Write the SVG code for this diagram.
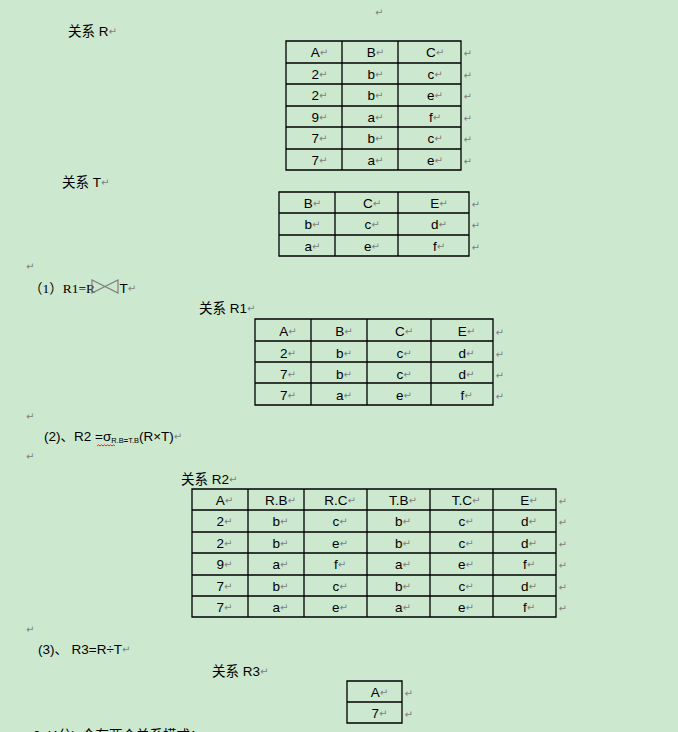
<svg xmlns="http://www.w3.org/2000/svg" width="678" height="732" viewBox="0 0 678 732">
<style>
.t{font-family:"Liberation Sans",Arial,"Noto Sans CJK SC",sans-serif;font-size:13.5px;fill:#000}
.s{font-family:"Liberation Serif","Times New Roman","Noto Sans CJK SC",serif;font-size:13.5px;fill:#000}
.c{text-anchor:middle}
.pm{font-family:"DejaVu Sans",sans-serif;font-size:10px;fill:#808080;font-weight:normal;baseline-shift:1.5px}
.grid{fill:none;stroke:#000;stroke-width:1.3}
</style>
<rect width="678" height="732" fill="#cce8cf"/>

<g id="top-mark"><text class="pm" x="375" y="17">↵</text></g>

<g id="label-R"><text class="t" x="68" y="35.5">关系 R<tspan class="pm">↵</tspan></text></g>
<g id="table-R">
<path class="grid" d="M286 41H461V170H286Z M342 41V170 M398 41V170 M286 63H461 M286 84H461 M286 106H461 M286 127H461 M286 149H461"/>
<g class="t c">
<text x="319.5" y="57">A<tspan class="pm">↵</tspan></text><text x="375.5" y="57">B<tspan class="pm">↵</tspan></text><text x="435" y="57">C<tspan class="pm">↵</tspan></text>
<text x="319.5" y="79">2<tspan class="pm">↵</tspan></text><text x="375.5" y="79">b<tspan class="pm">↵</tspan></text><text x="435" y="79">c<tspan class="pm">↵</tspan></text>
<text x="319.5" y="100">2<tspan class="pm">↵</tspan></text><text x="375.5" y="100">b<tspan class="pm">↵</tspan></text><text x="435" y="100">e<tspan class="pm">↵</tspan></text>
<text x="319.5" y="122">9<tspan class="pm">↵</tspan></text><text x="375.5" y="122">a<tspan class="pm">↵</tspan></text><text x="435" y="122">f<tspan class="pm">↵</tspan></text>
<text x="319.5" y="143">7<tspan class="pm">↵</tspan></text><text x="375.5" y="143">b<tspan class="pm">↵</tspan></text><text x="435" y="143">c<tspan class="pm">↵</tspan></text>
<text x="319.5" y="165">7<tspan class="pm">↵</tspan></text><text x="375.5" y="165">a<tspan class="pm">↵</tspan></text><text x="435" y="165">e<tspan class="pm">↵</tspan></text>
</g>
<g class="pm"><text x="463.5" y="57">↵</text><text x="463.5" y="79">↵</text><text x="463.5" y="100">↵</text><text x="463.5" y="122">↵</text><text x="463.5" y="143">↵</text><text x="463.5" y="165">↵</text></g>
</g>

<g id="label-T"><text class="t" x="62" y="186.5">关系 T<tspan class="pm">↵</tspan></text></g>
<g id="table-T">
<path class="grid" d="M279 192H469V256H279Z M335 192V256 M398 192V256 M279 213H469 M279 235H469"/>
<g class="t c">
<text x="312.5" y="208">B<tspan class="pm">↵</tspan></text><text x="372" y="208">C<tspan class="pm">↵</tspan></text><text x="439" y="208">E<tspan class="pm">↵</tspan></text>
<text x="312.5" y="229">b<tspan class="pm">↵</tspan></text><text x="372" y="229">c<tspan class="pm">↵</tspan></text><text x="439" y="229">d<tspan class="pm">↵</tspan></text>
<text x="312.5" y="251">a<tspan class="pm">↵</tspan></text><text x="372" y="251">e<tspan class="pm">↵</tspan></text><text x="439" y="251">f<tspan class="pm">↵</tspan></text>
</g>
<g class="pm"><text x="471.5" y="208">↵</text><text x="471.5" y="229">↵</text><text x="471.5" y="251">↵</text></g>
</g>

<g id="blank-1"><text class="pm" x="26" y="271">↵</text></g>

<g id="expr-1">
<text class="s" x="29" y="293">（1）R1=R</text>
<path d="M92 280V293L118 280V293Z" fill="none" stroke="#7f7f7f" stroke-width="1.2"/>
<text class="t" x="119.5" y="293">T<tspan class="pm">↵</tspan></text>
</g>

<g id="label-R1"><text class="t" x="199" y="313">关系 R1<tspan class="pm">↵</tspan></text></g>
<g id="table-R1">
<path class="grid" d="M255 319H493V405H255Z M311 319V405 M367 319V405 M431 319V405 M255 341H493 M255 362H493 M255 383H493"/>
<g class="t c">
<text x="288" y="335.5">A<tspan class="pm">↵</tspan></text><text x="344" y="335.5">B<tspan class="pm">↵</tspan></text><text x="404" y="335.5">C<tspan class="pm">↵</tspan></text><text x="466.5" y="335.5">E<tspan class="pm">↵</tspan></text>
<text x="288" y="357.5">2<tspan class="pm">↵</tspan></text><text x="344" y="357.5">b<tspan class="pm">↵</tspan></text><text x="404" y="357.5">c<tspan class="pm">↵</tspan></text><text x="466.5" y="357.5">d<tspan class="pm">↵</tspan></text>
<text x="288" y="378.5">7<tspan class="pm">↵</tspan></text><text x="344" y="378.5">b<tspan class="pm">↵</tspan></text><text x="404" y="378.5">c<tspan class="pm">↵</tspan></text><text x="466.5" y="378.5">d<tspan class="pm">↵</tspan></text>
<text x="288" y="399.5">7<tspan class="pm">↵</tspan></text><text x="344" y="399.5">a<tspan class="pm">↵</tspan></text><text x="404" y="399.5">e<tspan class="pm">↵</tspan></text><text x="466.5" y="399.5">f<tspan class="pm">↵</tspan></text>
</g>
<g class="pm"><text x="495.5" y="335.5">↵</text><text x="495.5" y="357.5">↵</text><text x="495.5" y="378.5">↵</text><text x="495.5" y="399.5">↵</text></g>
</g>

<g id="blank-2"><text class="pm" x="26" y="421">↵</text></g>

<g id="expr-2">
<text class="t" x="44" y="441" font-size="12.5">(2)、R2 =σ<tspan y="443" font-size="7.5">R.B<tspan font-weight="bold">=</tspan>T.B</tspan><tspan y="441">(R×T)</tspan><tspan class="pm">↵</tspan></text>
<polyline points="97,446 98.5,444.8 100,446 101.5,444.8 103,446 104.5,444.8 106,446 107.5,444.8 109,446 110.5,444.8 112,446 113.5,444.8 115,446" fill="none" stroke="#e00000" stroke-width="0.8"/>
</g>

<g id="blank-3"><text class="pm" x="26" y="461">↵</text></g>

<g id="label-R2"><text class="t" x="181" y="484">关系 R2<tspan class="pm">↵</tspan></text></g>
<g id="table-R2">
<path class="grid" d="M192 489H556V617H192Z M248 489V617 M304 489V617 M367 489V617 M430 489V617 M493 489V617 M192 510H556 M192 532H556 M192 553H556 M192 575H556 M192 596H556"/>
<g class="t c">
<text x="224.5" y="505">A<tspan class="pm">↵</tspan></text><text x="280.5" y="505">R.B<tspan class="pm">↵</tspan></text><text x="340" y="505">R.C<tspan class="pm">↵</tspan></text><text x="403" y="505">T.B<tspan class="pm">↵</tspan></text><text x="466" y="505">T.C<tspan class="pm">↵</tspan></text><text x="529" y="505">E<tspan class="pm">↵</tspan></text>
<text x="224.5" y="526">2<tspan class="pm">↵</tspan></text><text x="280.5" y="526">b<tspan class="pm">↵</tspan></text><text x="340" y="526">c<tspan class="pm">↵</tspan></text><text x="403" y="526">b<tspan class="pm">↵</tspan></text><text x="466" y="526">c<tspan class="pm">↵</tspan></text><text x="529" y="526">d<tspan class="pm">↵</tspan></text>
<text x="224.5" y="548">2<tspan class="pm">↵</tspan></text><text x="280.5" y="548">b<tspan class="pm">↵</tspan></text><text x="340" y="548">e<tspan class="pm">↵</tspan></text><text x="403" y="548">b<tspan class="pm">↵</tspan></text><text x="466" y="548">c<tspan class="pm">↵</tspan></text><text x="529" y="548">d<tspan class="pm">↵</tspan></text>
<text x="224.5" y="569">9<tspan class="pm">↵</tspan></text><text x="280.5" y="569">a<tspan class="pm">↵</tspan></text><text x="340" y="569">f<tspan class="pm">↵</tspan></text><text x="403" y="569">a<tspan class="pm">↵</tspan></text><text x="466" y="569">e<tspan class="pm">↵</tspan></text><text x="529" y="569">f<tspan class="pm">↵</tspan></text>
<text x="224.5" y="591">7<tspan class="pm">↵</tspan></text><text x="280.5" y="591">b<tspan class="pm">↵</tspan></text><text x="340" y="591">c<tspan class="pm">↵</tspan></text><text x="403" y="591">b<tspan class="pm">↵</tspan></text><text x="466" y="591">c<tspan class="pm">↵</tspan></text><text x="529" y="591">d<tspan class="pm">↵</tspan></text>
<text x="224.5" y="612">7<tspan class="pm">↵</tspan></text><text x="280.5" y="612">a<tspan class="pm">↵</tspan></text><text x="340" y="612">e<tspan class="pm">↵</tspan></text><text x="403" y="612">a<tspan class="pm">↵</tspan></text><text x="466" y="612">e<tspan class="pm">↵</tspan></text><text x="529" y="612">f<tspan class="pm">↵</tspan></text>
</g>
<g class="pm"><text x="558.5" y="505">↵</text><text x="558.5" y="526">↵</text><text x="558.5" y="548">↵</text><text x="558.5" y="569">↵</text><text x="558.5" y="591">↵</text><text x="558.5" y="612">↵</text></g>
</g>

<g id="blank-4"><text class="pm" x="26" y="634">↵</text></g>

<g id="expr-3"><text class="t" y="653.5"><tspan x="38">(3)、 </tspan><tspan x="71.5">R3=R÷T</tspan><tspan class="pm">↵</tspan></text></g>

<g id="label-R3"><text class="t" x="212" y="675.5">关系 R3<tspan class="pm">↵</tspan></text></g>
<g id="table-R3">
<path class="grid" d="M347 681H402V723H347Z M347 702H402"/>
<g class="t c">
<text x="379.5" y="697">A<tspan class="pm">↵</tspan></text>
<text x="379.5" y="718">7<tspan class="pm">↵</tspan></text>
</g>
<g class="pm"><text x="404.5" y="697">↵</text><text x="404.5" y="718">↵</text></g>
</g>

<g id="next-question"><text class="t" y="740"><tspan x="33">3</tspan><tspan x="46">(4分)</tspan><tspan x="82">今有两个关系模式：</tspan><tspan class="pm">↵</tspan></text></g>
</svg>
